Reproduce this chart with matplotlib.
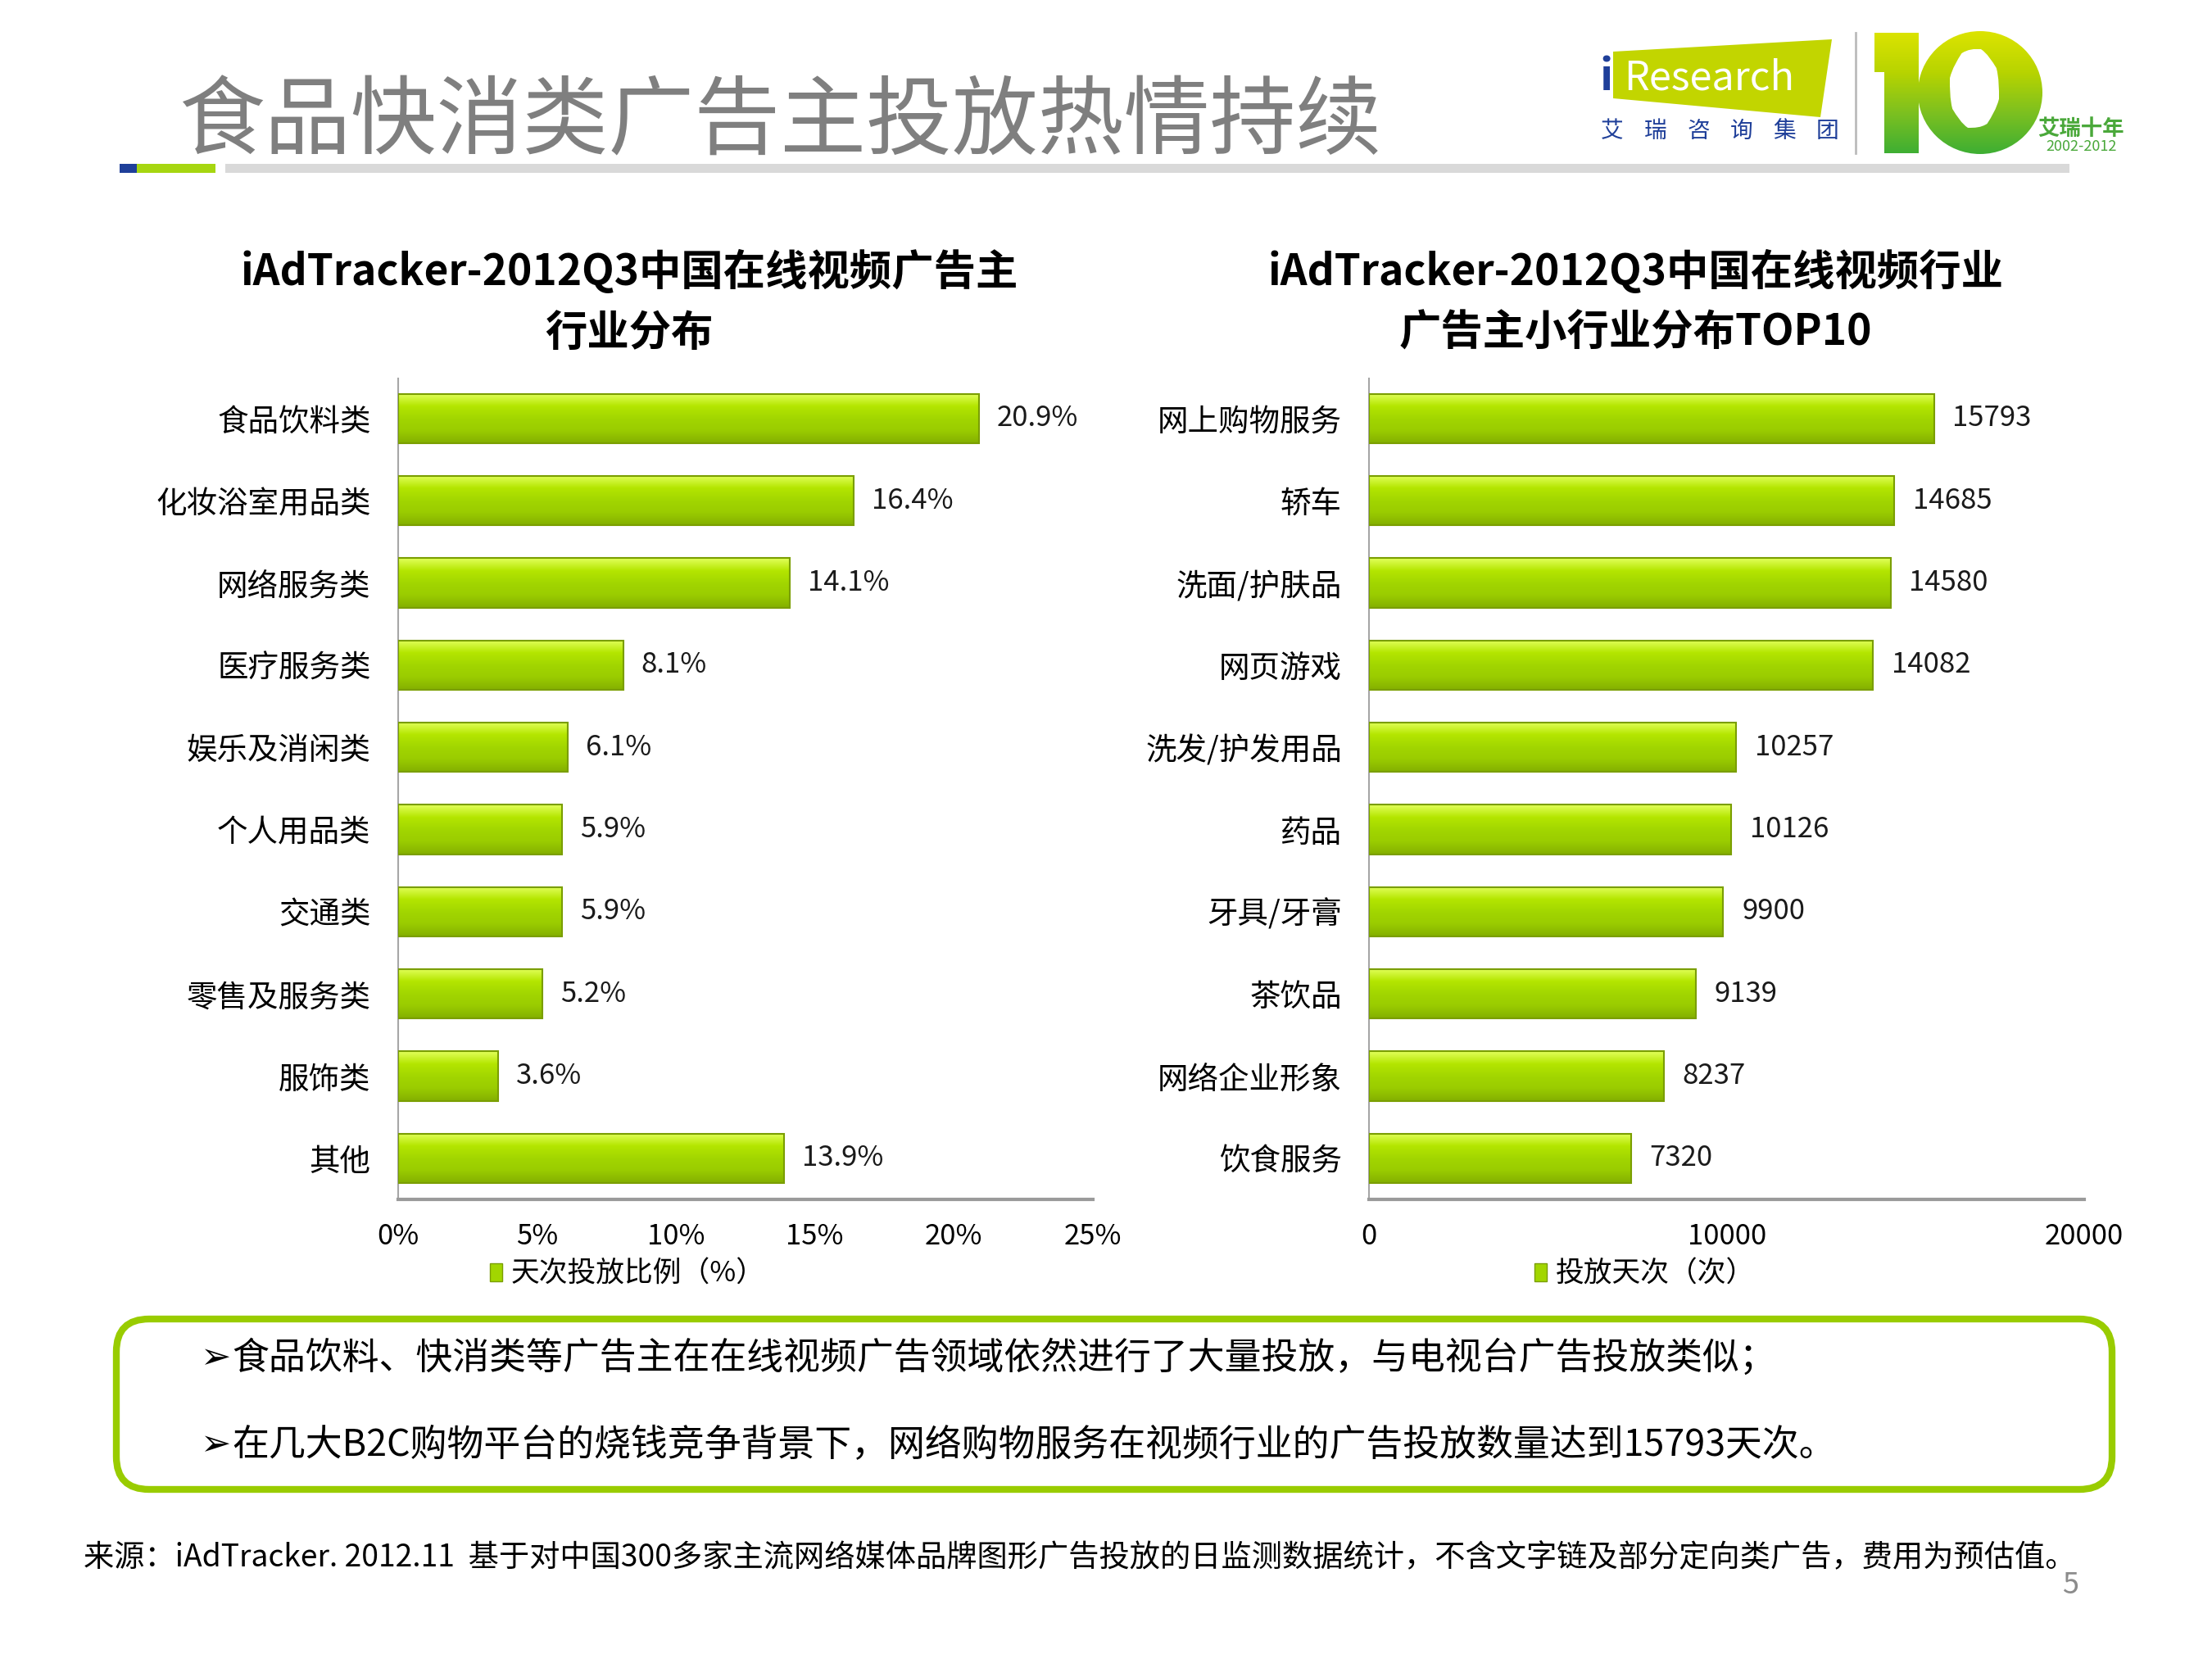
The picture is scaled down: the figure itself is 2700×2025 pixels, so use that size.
import numpy as np
import matplotlib
matplotlib.use("Agg")
import matplotlib.pyplot as plt
from matplotlib.patches import Polygon, Rectangle, FancyBboxPatch, Patch, Ellipse, PathPatch
from matplotlib.path import Path
from matplotlib.colors import LinearSegmentedColormap

plt.rcParams['font.family'] = ['Noto Sans CJK SC', 'DejaVu Sans']

# ---------------- data ----------------
left_categories = ["食品饮料类", "化妆浴室用品类", "网络服务类", "医疗服务类", "娱乐及消闲类",
                   "个人用品类", "交通类", "零售及服务类", "服饰类", "其他"]
left_values = [20.9, 16.4, 14.1, 8.1, 6.1, 5.9, 5.9, 5.2, 3.6, 13.9]
left_ticks = [0, 5, 10, 15, 20, 25]
left_tick_labels = ["0%", "5%", "10%", "15%", "20%", "25%"]

right_categories = ["网上购物服务", "轿车", "洗面/护肤品", "网页游戏", "洗发/护发用品",
                    "药品", "牙具/牙膏", "茶饮品", "网络企业形象", "饮食服务"]
right_values = [15793, 14685, 14580, 14082, 10257, 10126, 9900, 9139, 8237, 7320]
right_ticks = [0, 10000, 20000]
right_tick_labels = ["0", "10000", "20000"]

main_title = "食品快消类广告主投放热情持续"
left_title = ["iAdTracker-2012Q3中国在线视频广告主", "行业分布"]
right_title = ["iAdTracker-2012Q3中国在线视频行业", "广告主小行业分布TOP10"]
left_legend = "天次投放比例（%）"
right_legend = "投放天次（次）"
bullets = ["食品饮料、快消类等广告主在在线视频广告领域依然进行了大量投放，与电视台广告投放类似；",
           "在几大B2C购物平台的烧钱竞争背景下，网络购物服务在视频行业的广告投放数量达到15793天次。"]
source = "来源：iAdTracker. 2012.11  基于对中国300多家主流网络媒体品牌图形广告投放的日监测数据统计，不含文字链及部分定向类广告，费用为预估值。"
logo_cn = ["艾", "瑞", "咨", "询", "集", "团"]

W, H = 2700, 2025
fig = plt.figure(figsize=(W / 100, H / 100), dpi=100)
fig.patch.set_facecolor("white")

# ---------------- decoration layer (pixel coordinates) ----------------
deco = fig.add_axes([0, 0, 1, 1])
deco.set_xlim(0, W)
deco.set_ylim(H, 0)
deco.axis("off")

deco.text(218, 150, main_title, fontsize=75.5, color="#7f7f7f", va="center", ha="left")
deco.add_patch(Rectangle((146, 200), 21, 11, color="#1f3f99", lw=0))
deco.add_patch(Rectangle((167, 200), 96, 11, color="#a6d610", lw=0))
deco.add_patch(Rectangle((275, 200), 2251, 11, color="#d9d9d9", lw=0))

# logo: iResearch
deco.add_patch(Polygon([[1969, 63], [2236, 48], [2222, 143], [1969, 120]], closed=True,
                       color="#c2d500", lw=0))
deco.text(1960, 95, "i", fontsize=38, color="#1f3f99", va="center", ha="center", fontweight="bold")
deco.text(1982, 96, "Research", fontsize=35, color="white", va="center", ha="left")
for i, ch in enumerate(logo_cn):
    deco.text(1968 + i * 52.5, 160, ch, fontsize=20, color="#1f3f99", va="center", ha="center")
deco.plot([2265, 2265], [40, 187], color="#bbbbbb", lw=2)

# logo: "10"
logo_cmap = LinearSegmentedColormap.from_list("ten", ["#dde400", "#b8d400", "#7cc020", "#3cae34"])
one = Polygon([[2288, 40], [2342, 40], [2342, 187], [2300, 187], [2300, 88], [2288, 88]],
              closed=True, transform=deco.transData)
outer = Ellipse((2417, 113), 152, 150)
inner = Ellipse((2410, 108), 60, 96)
p_out = outer.get_patch_transform().transform_path(outer.get_path())
p_in = inner.get_patch_transform().transform_path(inner.get_path())
ring_path = Path(np.vstack([p_out.vertices, p_in.vertices[::-1]]),
                 np.concatenate([p_out.codes, p_in.codes]))
ring = PathPatch(ring_path, transform=deco.transData)
g = np.linspace(0, 1, 64).reshape(-1, 1)
for clip in (one, ring):
    deco.add_patch(clip)
    clip.set_visible(False)
    im = deco.imshow(g, extent=[2280, 2500, 190, 36], cmap=logo_cmap, aspect="auto",
                     interpolation="bicubic")
    im.set_clip_path(clip)
deco.set_xlim(0, W)
deco.set_ylim(H, 0)
deco.text(2540, 157, "艾瑞十年", fontsize=19, color="#4aa83a", va="center", ha="center",
          fontweight="bold")
deco.text(2541, 179, "2002-2012", fontsize=13, color="#4aa83a", va="center", ha="center")

# bottom box
deco.add_patch(FancyBboxPatch((142, 1610), 2436, 208, boxstyle="round,pad=0,rounding_size=40",
                              fc="white", ec="#99cc00", lw=6))
for yy, t in zip([1658, 1764], bullets):
    deco.text(244, yy, "➢", fontsize=32, color="black", va="center", ha="left",
              family=["DejaVu Sans"])
    deco.text(283, yy, t, fontsize=32.3, color="black", va="center", ha="left")

deco.text(102, 1902, source, fontsize=26.8, color="black", va="center", ha="left")
deco.text(2527, 1935, "5", fontsize=26, color="#8c8c8c", va="center", ha="center")

# ---------------- bar gradient ----------------
grad_cmap = LinearSegmentedColormap.from_list(
    "lime", ["#e2ff5a", "#b4e600", "#a2d600", "#9acc00", "#84b000"])
grad = np.linspace(0, 1, 64).reshape(-1, 1)


def draw_panel(rect, cats, vals, ticks, tick_labels, xmax, title, leg_text, title_x, leg_x, fmt):
    ax = fig.add_axes(rect)
    ax.set_zorder(2)
    ax.patch.set_alpha(0)
    y = np.arange(len(cats))
    bars = ax.barh(y, vals, height=0.6, color="#a2d600", edgecolor="#7a9e00", linewidth=1.5)
    for b in bars:
        x0, y0 = b.get_x(), b.get_y()
        w, h = b.get_width(), b.get_height()
        im = ax.imshow(grad, extent=[x0, x0 + w, y0 + h, y0], cmap=grad_cmap, aspect="auto",
                       interpolation="bicubic", zorder=2)
        im.set_clip_path(b)
        b.set_zorder(3)
        b.set_facecolor("none")
    for yi, v in zip(y, vals):
        ax.text(v + xmax * 0.026, yi, fmt(v), fontsize=25, va="center", ha="left", color="#1a1a1a")
    ax.set_xlim(0, xmax)
    ax.set_ylim(len(cats) - 0.5, -0.49)
    ax.set_yticks(y)
    ax.set_yticklabels(cats, fontsize=27)
    ax.set_xticks(ticks)
    ax.set_xticklabels(tick_labels, fontsize=25)
    ax.tick_params(axis="both", length=0)
    ax.tick_params(axis="y", pad=24)
    ax.tick_params(axis="x", pad=20)
    for s in ["top", "right"]:
        ax.spines[s].set_visible(False)
    ax.spines["left"].set_color("#a6a6a6")
    ax.spines["left"].set_linewidth(1.5)
    ax.spines["bottom"].set_color("#9a9a9a")
    ax.spines["bottom"].set_linewidth(3)
    for ty, line in zip([1.129, 1.0556], title):
        ax.text(title_x, ty, line, transform=ax.transAxes, fontsize=37, fontweight="bold",
                ha="center", va="center", color="black")
    ax.legend(handles=[Patch(facecolor="#a2d600", edgecolor="#7a9e00")], labels=[leg_text],
              loc="center", bbox_to_anchor=(leg_x, -0.091), frameon=False, fontsize=25,
              handlelength=0.45, handleheight=0.6, handletextpad=0.3)
    return ax


draw_panel([0.18, 0.277, 0.314, 0.495], left_categories, left_values, left_ticks,
           left_tick_labels, 25, left_title, left_legend, 0.333, 0.33, lambda v: f"{v:.1f}%")
draw_panel([0.619, 0.277, 0.3233, 0.495], right_categories, right_values, right_ticks,
           right_tick_labels, 20000, right_title, right_legend, 0.372, 0.385, lambda v: f"{v:d}")

fig.savefig("out.png", dpi=100)
